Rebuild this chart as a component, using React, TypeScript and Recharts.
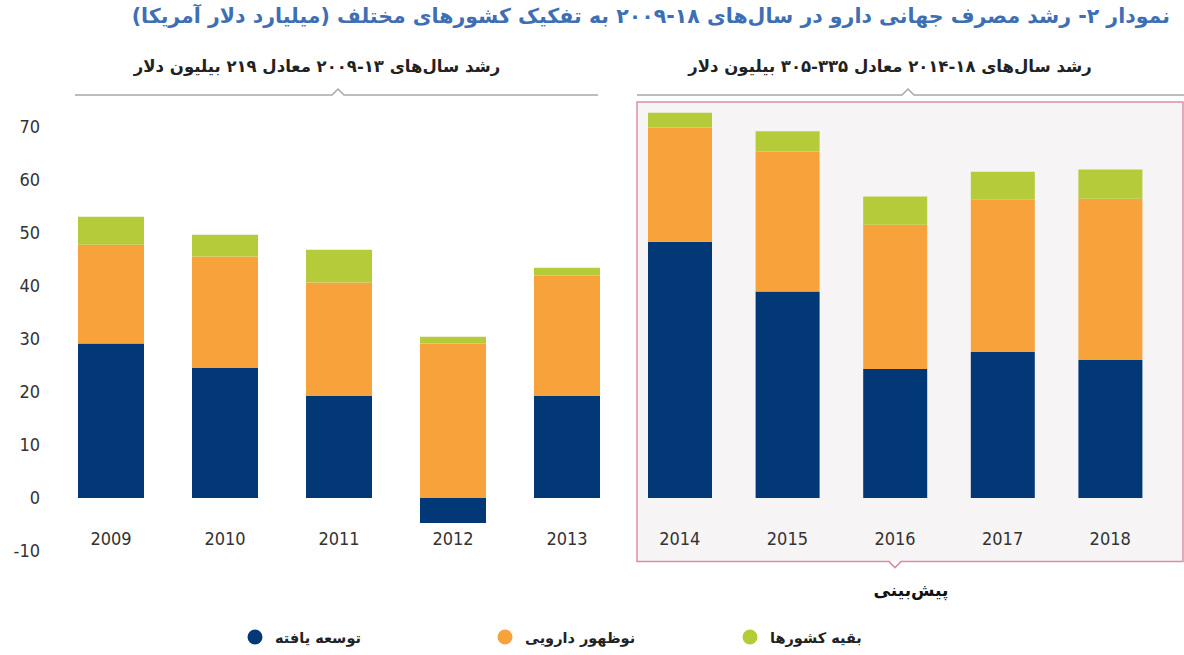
import * as React from "react";
import { BarChart, Bar, XAxis, YAxis, ReferenceArea } from "recharts";

const years = ["2009", "2010", "2011", "2012", "2013", "2014", "2015", "2016", "2017", "2018"];
const developed = [29.1, 24.5, 19.2, -4.7, 19.2, 48.3, 38.9, 24.3, 27.5, 26.0];
const pharmerging = [18.6, 21.0, 21.4, 29.1, 22.7, 21.5, 26.4, 27.2, 28.7, 30.4];
const restOfWorld = [5.3, 4.1, 6.2, 1.3, 1.5, 2.8, 3.8, 5.3, 5.3, 5.5];
const yTicks = [-10, 0, 10, 20, 30, 40, 50, 60, 70];

const series = [
  { key: "developed", name: "توسعه یافته", color: "#023876" },
  { key: "pharmerging", name: "نوظهور دارویی", color: "#F8A23B" },
  { key: "rest", name: "بقیه کشورها", color: "#B5CB3A" },
];

const title =
  "نمودار ۲- رشد مصرف جهانی دارو در سال‌های ۱۸-۲۰۰۹ به تفکیک کشورهای مختلف (میلیارد دلار آمریکا)";
const leftNote = "رشد سال‌های ۱۳-۲۰۰۹ معادل ۲۱۹ بیلیون دلار";
const rightNote = "رشد سال‌های ۱۸-۲۰۱۴ معادل ۳۳۵-۳۰۵ بیلیون دلار";
const forecastLabel = "پیش‌بینی";

const rows = years.map((year, i) => ({
  year,
  developed: developed[i],
  pharmerging: pharmerging[i],
  rest: restOfWorld[i],
}));

const NUM_FONT = "'Liberation Sans Narrow', 'DejaVu Sans Condensed', sans-serif";
const FA_FONT = "'DejaVu Sans', sans-serif";
const MARGIN_TOP = 100;
const X_AXIS_H = 104;
const DOMAIN: [number, number] = [-10, 75];

const YearTick = (props: any) => {
  const { x, y, payload } = props;
  return (
    <text x={x} y={y} dy={-14} textAnchor="middle" fill="#333" fontSize={18} fontFamily={NUM_FONT}>
      {payload.value}
    </text>
  );
};

const ForecastBox = (props: any) => {
  const { x, y, width, height } = props;
  const left = x + 11;
  const right = x + width + 19;
  const bottom = y + height;
  const mid = x + width / 2;
  return (
    <g>
      <rect x={left} y={y} width={right - left} height={height} fill="#F6F4F5" />
      <path
        d={`M${mid - 6},${bottom} L${left},${bottom} L${left},${y} L${right},${y} L${right},${bottom} L${mid + 6},${bottom} L${mid},${bottom + 6} Z`}
        fill="none"
        stroke="#D78EA8"
        strokeWidth={1.5}
      />
      <text x={mid + 16} y={bottom + 34} textAnchor="middle" fontSize={17} fontWeight="bold" fontFamily={FA_FONT} fill="#111" direction="rtl">
        {forecastLabel}
      </text>
    </g>
  );
};

const bars = () =>
  series.map((s) => (
    <Bar key={s.key} dataKey={s.key} name={s.name} stackId="a" fill={s.color} isAnimationActive={false} />
  ));

export default function App() {
  return (
    <div style={{ position: "absolute", left: 0, top: 0, width: 1184, height: 655, background: "#fff", overflow: "hidden" }}>
      <div
        style={{
          position: "absolute",
          right: 14,
          top: 4,
          direction: "rtl",
          fontFamily: FA_FONT,
          fontWeight: "bold",
          fontSize: 20.5,
          color: "#3E6FB5",
          whiteSpace: "nowrap",
        }}
      >
        {title}
      </div>

      <div style={{ position: "absolute", left: 0, top: 0 }}>
        <BarChart
          width={626}
          height={655}
          data={rows.slice(0, 5)}
          stackOffset="sign"
          margin={{ top: MARGIN_TOP, right: 2, bottom: 0, left: 0 }}
          barSize={66}
        >
          <XAxis dataKey="year" height={X_AXIS_H} axisLine={false} tickLine={false} tick={<YearTick />} interval={0} />
          <YAxis
            width={54}
            domain={DOMAIN}
            ticks={yTicks}
            axisLine={false}
            tickLine={false}
            tickMargin={8}
            tick={{ fill: "#333", fontSize: 18, fontFamily: NUM_FONT }}
          />
          {bars()}
        </BarChart>
      </div>

      <div style={{ position: "absolute", left: 626, top: 0 }}>
        <BarChart
          width={558}
          height={655}
          data={rows.slice(5)}
          stackOffset="sign"
          margin={{ top: MARGIN_TOP, right: 20, bottom: 0, left: 0 }}
          barSize={64}
        >
          <XAxis dataKey="year" height={X_AXIS_H} axisLine={false} tickLine={false} tick={<YearTick />} interval={0} />
          <YAxis hide domain={DOMAIN} ticks={yTicks} />
          <ReferenceArea x1="2014" x2="2018" y1={-12} y2={74.6} ifOverflow="visible" shape={<ForecastBox />} />
          {bars()}
        </BarChart>
      </div>

      <svg style={{ position: "absolute", left: 0, top: 0 }} width={1184} height={655} pointerEvents="none">
        <polyline points="75,95 332,95 338,89 344,95 598,95" fill="none" stroke="#A8A8A8" strokeWidth={1.5} />
        <polyline points="637,95 902,95 908,89 914,95 1184,95" fill="none" stroke="#A8A8A8" strokeWidth={1.5} />
        <text x={317} y={72} textAnchor="middle" direction="rtl" fontFamily={FA_FONT} fontWeight="bold" fontSize={16.5} fill="#222">
          {leftNote}
        </text>
        <text x={890} y={72} textAnchor="middle" direction="rtl" fontFamily={FA_FONT} fontWeight="bold" fontSize={16.5} fill="#222">
          {rightNote}
        </text>
        {series.map((s, i) => {
          const cx = [255, 505, 750][i];
          return (
            <g key={s.key}>
              <circle cx={cx} cy={637} r={7.5} fill={s.color} />
              <text x={cx + 20} y={643} textAnchor="start" direction="ltr" fontFamily={FA_FONT} fontWeight="bold" fontSize={14.5} fill="#222">
                {s.name}
              </text>
            </g>
          );
        })}
      </svg>
    </div>
  );
}
